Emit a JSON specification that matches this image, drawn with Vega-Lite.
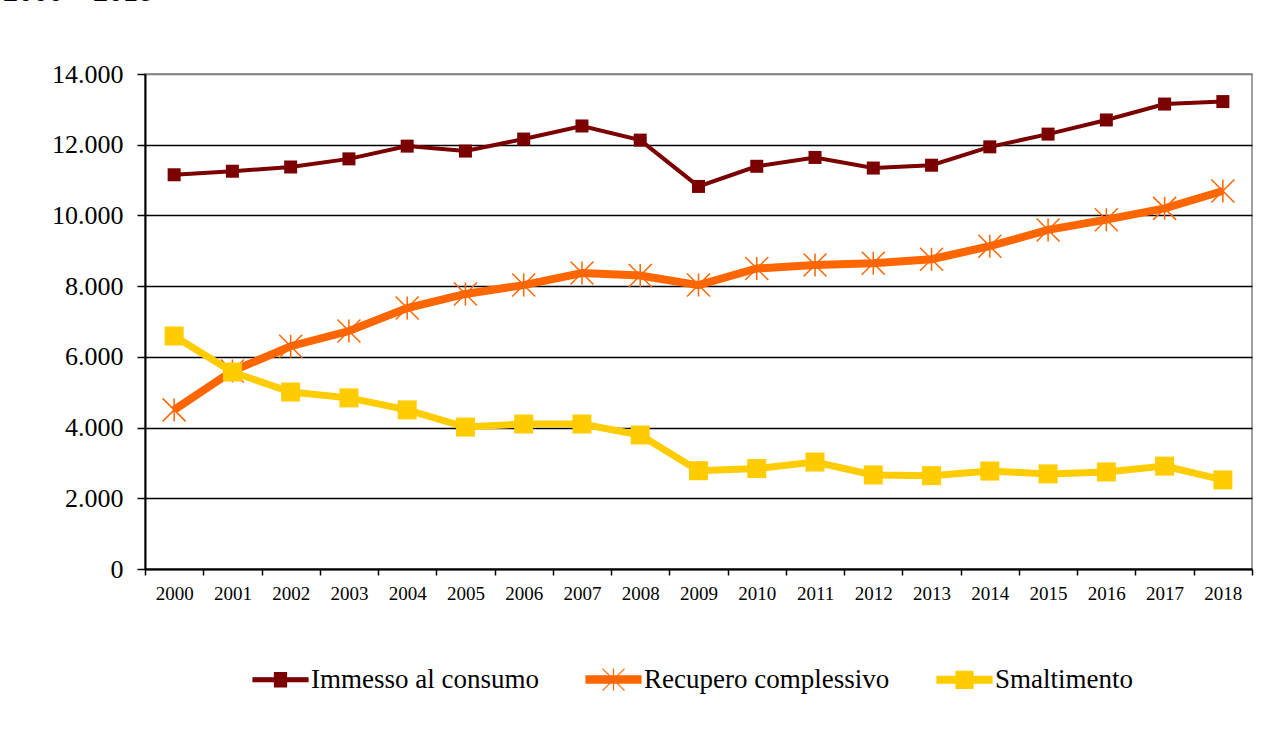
{
  "$schema": "https://vega.github.io/schema/vega-lite/v6.json",
  "autosize": {"type": "none"},
  "width": 1107,
  "height": 495,
  "padding": {"left": 145, "top": 74, "right": 25, "bottom": 173},
  "background": "#ffffff",
  "title": {"text": "2000 – 2018", "anchor": "start", "frame": "group", "font": "Liberation Serif", "fontSize": 30, "fontWeight": "bold", "color": "#000000", "dx": -142, "dy": -30, "baseline": "alphabetic", "offset": 0},
  "config": {
    "font": "Liberation Serif",
    "view": {"stroke": "#808080", "strokeWidth": 1.5},
    "axis": {"labelFont": "Liberation Serif", "labelColor": "#000000", "domainColor": "#000000", "tickColor": "#000000", "domainWidth": 2, "tickWidth": 1.5},
    "legend": {"labelFont": "Liberation Serif", "labelFontSize": 27, "labelColor": "#000000"}
  },
  "data": {"values": [
    {"year": "2000", "series": "Immesso al consumo", "value": 11150},
    {"year": "2001", "series": "Immesso al consumo", "value": 11250},
    {"year": "2002", "series": "Immesso al consumo", "value": 11370},
    {"year": "2003", "series": "Immesso al consumo", "value": 11600},
    {"year": "2004", "series": "Immesso al consumo", "value": 11960},
    {"year": "2005", "series": "Immesso al consumo", "value": 11820},
    {"year": "2006", "series": "Immesso al consumo", "value": 12160},
    {"year": "2007", "series": "Immesso al consumo", "value": 12530},
    {"year": "2008", "series": "Immesso al consumo", "value": 12130},
    {"year": "2009", "series": "Immesso al consumo", "value": 10820},
    {"year": "2010", "series": "Immesso al consumo", "value": 11390},
    {"year": "2011", "series": "Immesso al consumo", "value": 11640},
    {"year": "2012", "series": "Immesso al consumo", "value": 11340},
    {"year": "2013", "series": "Immesso al consumo", "value": 11420},
    {"year": "2014", "series": "Immesso al consumo", "value": 11940},
    {"year": "2015", "series": "Immesso al consumo", "value": 12300},
    {"year": "2016", "series": "Immesso al consumo", "value": 12700},
    {"year": "2017", "series": "Immesso al consumo", "value": 13150},
    {"year": "2018", "series": "Immesso al consumo", "value": 13220},
    {"year": "2000", "series": "Recupero complessivo", "value": 4500},
    {"year": "2001", "series": "Recupero complessivo", "value": 5600},
    {"year": "2002", "series": "Recupero complessivo", "value": 6300},
    {"year": "2003", "series": "Recupero complessivo", "value": 6730},
    {"year": "2004", "series": "Recupero complessivo", "value": 7380},
    {"year": "2005", "series": "Recupero complessivo", "value": 7780},
    {"year": "2006", "series": "Recupero complessivo", "value": 8030},
    {"year": "2007", "series": "Recupero complessivo", "value": 8370},
    {"year": "2008", "series": "Recupero complessivo", "value": 8300},
    {"year": "2009", "series": "Recupero complessivo", "value": 8030},
    {"year": "2010", "series": "Recupero complessivo", "value": 8500},
    {"year": "2011", "series": "Recupero complessivo", "value": 8600},
    {"year": "2012", "series": "Recupero complessivo", "value": 8650},
    {"year": "2013", "series": "Recupero complessivo", "value": 8760},
    {"year": "2014", "series": "Recupero complessivo", "value": 9130},
    {"year": "2015", "series": "Recupero complessivo", "value": 9590},
    {"year": "2016", "series": "Recupero complessivo", "value": 9880},
    {"year": "2017", "series": "Recupero complessivo", "value": 10200},
    {"year": "2018", "series": "Recupero complessivo", "value": 10690},
    {"year": "2000", "series": "Smaltimento", "value": 6590},
    {"year": "2001", "series": "Smaltimento", "value": 5570},
    {"year": "2002", "series": "Smaltimento", "value": 5005},
    {"year": "2003", "series": "Smaltimento", "value": 4840},
    {"year": "2004", "series": "Smaltimento", "value": 4500},
    {"year": "2005", "series": "Smaltimento", "value": 4015},
    {"year": "2006", "series": "Smaltimento", "value": 4100},
    {"year": "2007", "series": "Smaltimento", "value": 4100},
    {"year": "2008", "series": "Smaltimento", "value": 3790},
    {"year": "2009", "series": "Smaltimento", "value": 2780},
    {"year": "2010", "series": "Smaltimento", "value": 2840},
    {"year": "2011", "series": "Smaltimento", "value": 3025},
    {"year": "2012", "series": "Smaltimento", "value": 2660},
    {"year": "2013", "series": "Smaltimento", "value": 2640},
    {"year": "2014", "series": "Smaltimento", "value": 2770},
    {"year": "2015", "series": "Smaltimento", "value": 2690},
    {"year": "2016", "series": "Smaltimento", "value": 2745},
    {"year": "2017", "series": "Smaltimento", "value": 2910},
    {"year": "2018", "series": "Smaltimento", "value": 2520}
  ]},
  "encoding": {
    "x": {"field": "year", "type": "ordinal", "scale": {"type": "band", "paddingInner": 0, "paddingOuter": 0},
      "axis": {"title": null, "labelAngle": 0, "tickBand": "extent", "tickSize": 6, "labelFontSize": 19, "labelPadding": 9, "grid": false, "domainWidth": 2}},
    "y": {"field": "value", "type": "quantitative", "scale": {"domain": [0, 14000], "nice": false, "zero": true},
      "axis": {"title": null, "values": [0, 2000, 4000, 6000, 8000, 10000, 12000, 14000], "labelExpr": "replace(format(datum.value, ',d'), ',', '.')", "labelFontSize": 26, "labelPadding": 14, "tickSize": 8, "grid": true, "gridColor": {"condition": {"test": "datum.value == 14000", "value": "#808080"}, "value": "#000000"}, "gridWidth": 1.5, "gridOpacity": 1}},
    "color": {"field": "series", "type": "nominal",
      "scale": {"domain": ["Immesso al consumo", "Recupero complessivo", "Smaltimento"], "range": ["#7b0000", "#ff6600", "#ffcc00"]},
      "legend": {"orient": "none", "legendX": 107, "legendY": 577, "direction": "horizontal", "title": null, "symbolSize": 3025, "labelFont": "Liberation Serif", "labelFontSize": 27, "labelColor": "#000000", "labelLimit": 400, "labelOffset": 2, "columnPadding": 44, "padding": 0,
        "encode": {
          "symbols": {"update": {
          "shape": {"signal": "datum.value === 'Recupero complessivo' ? 'M-1,-0.13L1,-0.13L1,0.13L-1,0.13Z M0,-0.4L0,0.4 M-0.4,-0.4L0.4,0.4 M-0.4,0.4L0.4,-0.4' : datum.value === 'Smaltimento' ? 'M-1,-0.12L1,-0.12L1,0.12L-1,0.12Z M-0.31,-0.31L0.31,-0.31L0.31,0.31L-0.31,0.31Z' : 'M-1,-0.07L1,-0.07L1,0.07L-1,0.07Z M-0.22,-0.26L0.22,-0.26L0.22,0.26L-0.22,0.26Z'"},
          "fill": {"signal": "scale('color', datum.value)"},
          "stroke": {"signal": "scale('color', datum.value)"},
          "strokeWidth": {"value": 1.2},
          "opacity": {"value": 1},
          "fillOpacity": {"value": 1},
          "strokeOpacity": {"value": 1}
        }}}}}
  },
  "layer": [
    {"transform": [{"filter": "datum.series === 'Immesso al consumo'"}], "mark": {"type": "line", "strokeWidth": 4}},
    {"transform": [{"filter": "datum.series === 'Immesso al consumo'"}], "mark": {"type": "point", "shape": "square", "filled": true, "size": 169, "opacity": 1}},
    {"transform": [{"filter": "datum.series === 'Recupero complessivo'"}], "mark": {"type": "line", "strokeWidth": 8}},
    {"transform": [{"filter": "datum.series === 'Recupero complessivo'"}], "mark": {"type": "point", "shape": "M0,-1L0,1M-1,-1L1,1M-1,1L1,-1", "filled": false, "size": 529, "strokeWidth": 1.5, "opacity": 1}},
    {"transform": [{"filter": "datum.series === 'Smaltimento'"}], "mark": {"type": "line", "strokeWidth": 7}},
    {"transform": [{"filter": "datum.series === 'Smaltimento'"}], "mark": {"type": "point", "shape": "square", "filled": true, "size": 361, "opacity": 1}}
  ]
}
